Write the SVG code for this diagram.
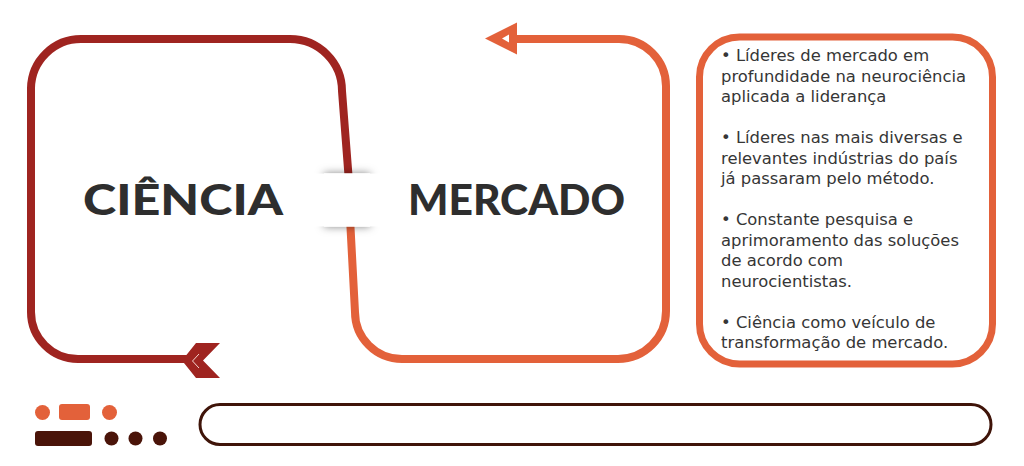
<svg xmlns="http://www.w3.org/2000/svg" width="1024" height="466" viewBox="0 0 1024 466">
<style>
.loop{fill:none;stroke-width:8;stroke-linecap:butt;stroke-linejoin:round}
.red{stroke:#9f2420}
.orange{stroke:#e3613a}
.title{font-family:Lato,"Liberation Sans",sans-serif;font-weight:900;font-size:42px;fill:#2e2e2e}
.body{font-family:"DejaVu Sans","Noto Sans",sans-serif;font-size:16.4px;fill:#363636}
.dk{fill:#4a1409}
.or{fill:#e3613a}
</style>
<defs>
<filter id="shadow" x="-50%" y="-50%" width="200%" height="200%">
<feDropShadow dx="0" dy="0" stdDeviation="4" flood-color="#000" flood-opacity="0.5"/>
</filter>
</defs>
<rect width="1024" height="466" fill="#fff"/>
<g id="connectors">
<path class="loop red" d="M190 359 H78 A47 47 0 0 1 31 312 V88 A50 50 0 0 1 81 39 H290 A52 52 0 0 1 342 91 L349 182"/>
<path class="loop orange" d="M350 218 L355 312 A47 47 0 0 0 402 359 H618 A48 48 0 0 0 666 311 V86 A47 47 0 0 0 619 39 H514"/>
<polygon points="220,343 203,360.5 220,378 196,378 182,360.5 196,343" fill="#9f2420"/>
<polyline points="199,354 192.5,361 199,368" fill="none" stroke="#f4d6d0" stroke-width="1"/>
<polygon points="485,38.5 517,22.5 517,54.5" fill="#e3613a"/>
<polygon points="502,38.5 509,34.5 509,42.5" fill="#fff"/>
</g>
<g id="band">
<rect x="324" y="173.5" width="46" height="53" fill="#fff" filter="url(#shadow)"/>
<rect x="300" y="173.5" width="100" height="53" fill="#fff"/>
</g>
<g id="ciencia">
<text class="title" x="83" y="215" textLength="200" lengthAdjust="spacingAndGlyphs">CIÊNCIA</text>
</g>
<g id="mercado">
<text class="title" x="408" y="215" textLength="217" lengthAdjust="spacingAndGlyphs">MERCADO</text>
</g>
<g id="info">
<rect x="699.5" y="37" width="293" height="327" rx="40" fill="none" stroke="#e3613a" stroke-width="7"/>
<text class="body">
<tspan x="721" y="61">• Líderes de mercado em</tspan>
<tspan x="721" y="81.5">profundidade na neurociência</tspan>
<tspan x="721" y="102">aplicada a liderança</tspan>
<tspan x="721" y="143">• Líderes nas mais diversas e</tspan>
<tspan x="721" y="163.5">relevantes indústrias do país</tspan>
<tspan x="721" y="184">já passaram pelo método.</tspan>
<tspan x="721" y="225">• Constante pesquisa e</tspan>
<tspan x="721" y="245.5">aprimoramento das soluções</tspan>
<tspan x="721" y="266">de acordo com</tspan>
<tspan x="721" y="286.5">neurocientistas.</tspan>
<tspan x="721" y="327.5">• Ciência como veículo de</tspan>
<tspan x="721" y="348">transformação de mercado.</tspan>
</text>
</g>
<g id="legend">
<circle class="or" cx="42.5" cy="412.5" r="7.5"/>
<rect class="or" x="59" y="404" width="31" height="16" rx="3"/>
<circle class="or" cx="109.5" cy="412.5" r="7.5"/>
<rect class="dk" x="35" y="431" width="57" height="15" rx="3"/>
<circle class="dk" cx="111.5" cy="438.5" r="7"/>
<circle class="dk" cx="135.5" cy="438.5" r="7"/>
<circle class="dk" cx="160" cy="438.5" r="7"/>
</g>
<g id="pill">
<rect x="200" y="404.5" width="791" height="40" rx="20" fill="none" stroke="#3f1409" stroke-width="3"/>
</g>
</svg>
